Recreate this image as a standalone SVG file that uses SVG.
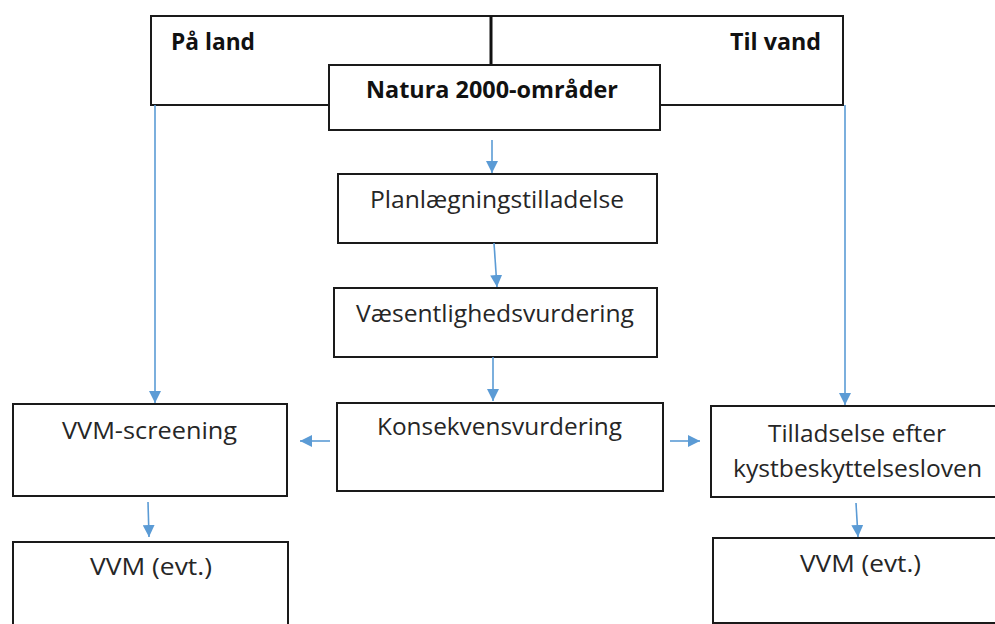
<svg xmlns="http://www.w3.org/2000/svg" width="995" height="624" viewBox="0 0 995 624">
<style>
.box{fill:#fff;stroke:#1a1a1a;stroke-width:2}
.t{font-family:"Open Sans","Noto Sans","Liberation Sans",sans-serif;font-size:23px;fill:#262626;text-anchor:middle;font-variant-ligatures:none}
.b{font-family:"Open Sans","Noto Sans","Liberation Sans",sans-serif;font-size:23px;font-weight:bold;fill:#111;font-variant-ligatures:none}
.c{stroke:#5B9BD5;stroke-width:1.6;fill:none;marker-end:url(#ah)}
</style>
<defs>
<marker id="ah" markerUnits="userSpaceOnUse" markerWidth="12" markerHeight="12" viewBox="0 0 12 12" refX="12" refY="6" orient="auto">
<path d="M0,0 L12,6 L0,12 Z" fill="#5B9BD5"/>
</marker>
</defs>
<rect width="995" height="624" fill="#fff"/>
<g id="top">
<rect class="box" x="151" y="16" width="692" height="89"/>
<line x1="491" y1="16" x2="491" y2="65" stroke="#111" stroke-width="3"/>
<text class="b" x="171" y="50" textLength="84" lengthAdjust="spacingAndGlyphs">På land</text>
<text class="b" x="730" y="50" textLength="91" lengthAdjust="spacingAndGlyphs">Til vand</text>
</g>
<g id="natura">
<rect class="box" x="329" y="65" width="331" height="65"/>
<text class="b" x="366" y="98" textLength="252" lengthAdjust="spacingAndGlyphs">Natura 2000-områder</text>
</g>
<g id="plan">
<rect class="box" x="338" y="174" width="319" height="69"/>
<text class="t" x="497" y="208" textLength="254" lengthAdjust="spacingAndGlyphs">Planlægningstilladelse</text>
</g>
<g id="vaes">
<rect class="box" x="334" y="288" width="323" height="69"/>
<text class="t" x="495" y="322" textLength="278" lengthAdjust="spacingAndGlyphs">Væsentlighedsvurdering</text>
</g>
<g id="kons">
<rect class="box" x="337" y="403" width="326" height="88"/>
<text class="t" x="499.5" y="435" textLength="245" lengthAdjust="spacingAndGlyphs">Konsekvensvurdering</text>
</g>
<g id="vvmscreen">
<rect class="box" x="13" y="404" width="274" height="92"/>
<text class="t" x="149.5" y="439" textLength="175" lengthAdjust="spacingAndGlyphs">VVM-screening</text>
</g>
<g id="vvmleft">
<rect class="box" x="13" y="542" width="275" height="100"/>
<text class="t" x="151" y="575" textLength="122" lengthAdjust="spacingAndGlyphs">VVM (evt.)</text>
</g>
<g id="tilladelse">
<rect class="box" x="711" y="406" width="300" height="91"/>
<text class="t" x="857" y="442" textLength="178" lengthAdjust="spacingAndGlyphs">Tilladselse efter</text>
<text class="t" x="857.5" y="477" textLength="249" lengthAdjust="spacingAndGlyphs">kystbeskyttelsesloven</text>
</g>
<g id="vvmright">
<rect class="box" x="713" y="538" width="300" height="85"/>
<text class="t" x="860.5" y="572" textLength="121" lengthAdjust="spacingAndGlyphs">VVM (evt.)</text>
</g>
<g id="connectors">
<line class="c" x1="155" y1="105" x2="155" y2="403"/>
<line class="c" x1="845" y1="105" x2="845" y2="405"/>
<line class="c" x1="492" y1="140" x2="492" y2="173"/>
<line class="c" x1="494" y1="243" x2="497" y2="287"/>
<line class="c" x1="493" y1="357" x2="493" y2="401"/>
<line class="c" x1="330" y1="441" x2="300" y2="441"/>
<line class="c" x1="670" y1="441" x2="700" y2="441"/>
<line class="c" x1="148" y1="502" x2="149" y2="537"/>
<line class="c" x1="856" y1="503" x2="858" y2="537"/>
</g>
</svg>
